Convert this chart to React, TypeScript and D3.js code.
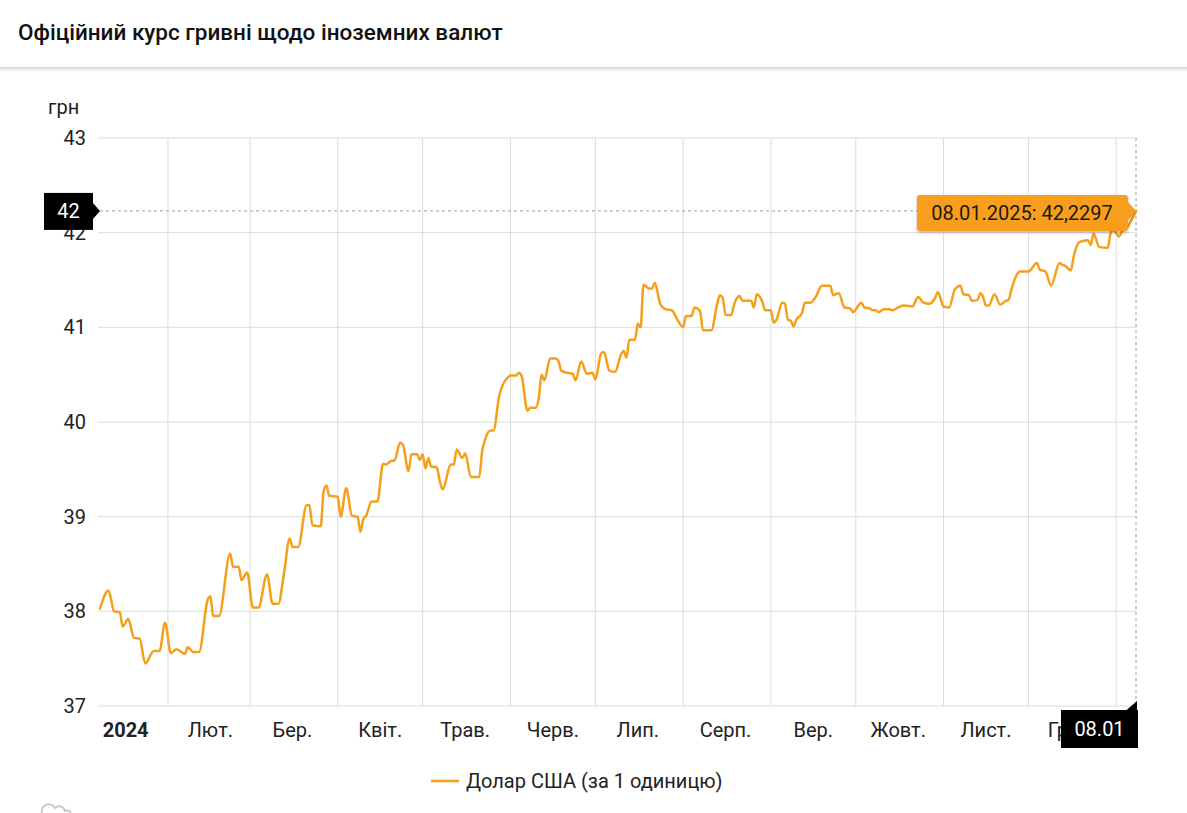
import React from 'react';
import * as d3 from 'd3';

const title = 'Офіційний курс гривні щодо іноземних валют';
const yUnit = 'грн';
const seriesName = 'Долар США (за 1 одиницю)';
const tooltipText = '08.01.2025: 42,2297';
const crossValueLabel = '42';
const crossDateLabel = '08.01';
const crossValue = 42.2297;

const yTicks = [37, 38, 39, 40, 41, 42, 43];
const monthLabels = ['2024', 'Лют.', 'Бер.', 'Квіт.', 'Трав.', 'Черв.', 'Лип.', 'Серп.', 'Вер.', 'Жовт.', 'Лист.', 'Груд.'];

const dates = [
  '2024-01-08', '2024-01-11', '2024-01-13', '2024-01-15', '2024-01-16', '2024-01-18', '2024-01-20', '2024-01-22', '2024-01-24', '2024-01-27', '2024-01-29', '2024-01-31',
  '2024-02-02', '2024-02-04', '2024-02-07', '2024-02-08', '2024-02-10', '2024-02-12', '2024-02-15', '2024-02-16', '2024-02-17', '2024-02-19', '2024-02-23', '2024-02-24', '2024-02-26', '2024-02-27', '2024-02-29',
  '2024-03-02', '2024-03-04', '2024-03-07', '2024-03-09', '2024-03-11', '2024-03-13', '2024-03-15', '2024-03-16', '2024-03-18', '2024-03-21', '2024-03-22', '2024-03-23', '2024-03-26', '2024-03-27', '2024-03-28', '2024-03-29',
  '2024-04-01', '2024-04-02', '2024-04-04', '2024-04-06', '2024-04-08', '2024-04-09', '2024-04-10', '2024-04-11', '2024-04-13', '2024-04-15', '2024-04-17', '2024-04-18', '2024-04-20', '2024-04-21', '2024-04-23', '2024-04-24', '2024-04-26', '2024-04-27', '2024-04-29', '2024-04-30',
  '2024-05-01', '2024-05-02', '2024-05-03', '2024-05-04', '2024-05-06', '2024-05-07', '2024-05-08', '2024-05-11', '2024-05-12', '2024-05-13', '2024-05-15', '2024-05-16', '2024-05-18', '2024-05-21', '2024-05-22', '2024-05-23', '2024-05-25', '2024-05-26', '2024-05-28', '2024-05-31',
  '2024-06-01', '2024-06-03', '2024-06-04', '2024-06-05', '2024-06-07', '2024-06-08', '2024-06-10', '2024-06-11', '2024-06-12', '2024-06-13', '2024-06-15', '2024-06-17', '2024-06-18', '2024-06-19', '2024-06-21', '2024-06-23', '2024-06-24', '2024-06-26', '2024-06-28', '2024-06-30',
  '2024-07-01', '2024-07-03', '2024-07-04', '2024-07-06', '2024-07-08', '2024-07-10', '2024-07-11', '2024-07-12', '2024-07-13', '2024-07-15', '2024-07-16', '2024-07-17', '2024-07-18', '2024-07-20', '2024-07-21', '2024-07-22', '2024-07-24', '2024-07-26', '2024-07-28', '2024-07-30',
  '2024-08-01', '2024-08-02', '2024-08-04', '2024-08-05', '2024-08-07', '2024-08-08', '2024-08-11', '2024-08-13', '2024-08-14', '2024-08-15', '2024-08-16', '2024-08-18', '2024-08-19', '2024-08-21', '2024-08-22', '2024-08-25', '2024-08-26', '2024-08-27', '2024-08-29', '2024-08-30',
  '2024-09-01', '2024-09-02', '2024-09-03', '2024-09-05', '2024-09-06', '2024-09-07', '2024-09-08', '2024-09-09', '2024-09-10', '2024-09-12', '2024-09-13', '2024-09-15', '2024-09-17', '2024-09-19', '2024-09-22', '2024-09-23', '2024-09-25', '2024-09-27', '2024-09-29', '2024-09-30',
  '2024-10-03', '2024-10-04', '2024-10-06', '2024-10-07', '2024-10-08', '2024-10-09', '2024-10-11', '2024-10-13', '2024-10-14', '2024-10-16', '2024-10-18', '2024-10-21', '2024-10-23', '2024-10-25', '2024-10-27', '2024-10-29', '2024-10-30',
  '2024-11-01', '2024-11-03', '2024-11-05', '2024-11-07', '2024-11-08', '2024-11-10', '2024-11-11', '2024-11-13', '2024-11-14', '2024-11-15', '2024-11-16', '2024-11-17', '2024-11-19', '2024-11-21', '2024-11-23', '2024-11-24', '2024-11-25', '2024-11-28',
  '2024-12-01', '2024-12-04', '2024-12-05', '2024-12-07', '2024-12-09', '2024-12-12', '2024-12-13', '2024-12-14', '2024-12-16', '2024-12-17', '2024-12-19', '2024-12-22', '2024-12-23', '2024-12-24', '2024-12-26', '2024-12-29', '2024-12-30', '2024-12-31',
  '2025-01-02', '2025-01-03', '2025-01-05', '2025-01-07', '2025-01-08',
];

const rates = [
  38.03, 38.22, 38.0, 37.99, 37.84, 37.92, 37.72, 37.71, 37.45, 37.58, 37.58, 37.88,
  37.56, 37.6, 37.55, 37.62, 37.57, 37.57, 38.12, 38.16, 37.95, 37.95, 38.61, 38.47, 38.47, 38.33, 38.41,
  38.04, 38.04, 38.39, 38.08, 38.08, 38.4, 38.77, 38.68, 38.68, 39.12, 39.12, 38.91, 38.9, 39.27, 39.33, 39.22,
  39.21, 39.0, 39.3, 39.01, 39.0, 38.84, 38.97, 39.01, 39.16, 39.16, 39.56, 39.55, 39.59, 39.59, 39.78, 39.76, 39.48, 39.66, 39.66, 39.6,
  39.66, 39.51, 39.62, 39.53, 39.52, 39.38, 39.29, 39.55, 39.55, 39.71, 39.62, 39.67, 39.42, 39.42, 39.69, 39.81, 39.91, 39.91, 40.27, 40.47,
  40.49, 40.49, 40.52, 40.48, 40.12, 40.15, 40.15, 40.25, 40.5, 40.44, 40.67, 40.67, 40.64, 40.54, 40.52, 40.51, 40.44, 40.64, 40.51, 40.52,
  40.45, 40.72, 40.74, 40.54, 40.53, 40.71, 40.75, 40.68, 40.87, 40.87, 41.04, 41.0, 41.45, 41.41, 41.41, 41.47, 41.24, 41.19, 41.18, 41.08,
  41.0, 41.12, 41.12, 41.21, 41.17, 40.97, 40.97, 41.24, 41.34, 41.31, 41.13, 41.13, 41.24, 41.33, 41.28, 41.28, 41.21, 41.35, 41.27, 41.18,
  41.18, 41.05, 41.08, 41.26, 41.25, 41.08, 41.07, 41.01, 41.08, 41.15, 41.26, 41.26, 41.33, 41.44, 41.44, 41.34, 41.36, 41.21, 41.2, 41.16,
  41.26, 41.21, 41.2, 41.18, 41.18, 41.16, 41.19, 41.19, 41.18, 41.21, 41.23, 41.22, 41.32, 41.26, 41.25, 41.31, 41.37,
  41.22, 41.21, 41.4, 41.44, 41.35, 41.34, 41.28, 41.29, 41.36, 41.32, 41.23, 41.23, 41.35, 41.24, 41.28, 41.29, 41.4, 41.59,
  41.59, 41.68, 41.61, 41.59, 41.44, 41.68, 41.66, 41.65, 41.6, 41.75, 41.9, 41.92, 41.87, 41.99, 41.85, 41.84, 41.99, 42.03,
  41.96, 42.01, 42.06, 42.17, 42.2297,
];

const W = 1187;
const H = 813;
const FONT = 'Roboto, "Noto Sans", sans-serif';
const LINE_COLOR = '#F5A01A';
const TIP_COLOR = '#F99E1C';

export default function App() {
  const parse = d3.timeParse('%Y-%m-%d');
  const data = dates.map((d, i) => ({ date: parse(d) as Date, v: rates[i] }));

  const x = d3.scaleTime()
    .domain([parse('2024-01-08') as Date, parse('2025-01-08') as Date])
    .range([100, 1136]);
  const y = d3.scaleLinear().domain([37, 43]).range([706, 138]);

  const line = d3.line<{ date: Date; v: number }>()
    .x((d) => x(d.date))
    .y((d) => y(d.v))
    .curve(d3.curveMonotoneX);

  const monthStarts = d3.timeMonth.range(new Date(2024, 1, 1), new Date(2025, 0, 2));
  const labelDates = d3.timeMonth.range(new Date(2024, 0, 1), new Date(2024, 11, 2)).map((m) => d3.timeDay.offset(m, 15));

  const [x0, x1] = x.range();
  const lastX = x(data[data.length - 1].date);
  const crossY = y(crossValue);

  return (
    <div style={{ position: 'absolute', left: 0, top: 0, width: W, height: H, background: '#fff' }}>
      <svg width={W} height={H} style={{ display: 'block', fontFamily: FONT }}>
        <defs>
          <linearGradient id="hdrShadow" x1="0" y1="0" x2="0" y2="1">
            <stop offset="0" stopColor="#d4d4d4" />
            <stop offset="1" stopColor="#ffffff" stopOpacity="0" />
          </linearGradient>
          <filter id="tipShadow" x="-10%" y="-30%" width="120%" height="170%">
            <feDropShadow dx="0" dy="1.5" stdDeviation="1.5" floodColor="#000" floodOpacity="0.3" />
          </filter>
        </defs>

        <rect x={0} y={0} width={W} height={H} fill="#fff" />
        <text x={18} y={39.5} fontSize={22.5} fontWeight={500} fill="#111">{title}</text>
        <rect x={0} y={67} width={W} height={7} fill="url(#hdrShadow)" />

        {/* horizontal grid */}
        {yTicks.map((t) => (
          <line key={'h' + t} x1={x0 - 2} x2={x1 + 1} y1={y(t)} y2={y(t)} stroke="#dcdcdc" strokeWidth={1} />
        ))}
        {/* vertical grid */}
        {monthStarts.map((m) => (
          <line key={'v' + m.getTime()} x1={x(m)} x2={x(m)} y1={y(43)} y2={y(37)} stroke="#dcdcdc" strokeWidth={1} />
        ))}

        {/* y labels */}
        <text x={48} y={114} fontSize={20} fill="#222">{yUnit}</text>
        {yTicks.map((t) => (
          <text key={'yl' + t} x={86} y={y(t)} dy="0.35em" fontSize={20} textAnchor="end" fill="#222">{t}</text>
        ))}

        {/* x labels */}
        {labelDates.map((d, i) => (
          <text key={'xl' + i} x={i === 0 ? x(d) + 3 : x(d)} y={737} fontSize={20} textAnchor="middle" fill="#222" fontWeight={i === 0 ? 700 : 400}>
            {monthLabels[i]}
          </text>
        ))}

        {/* crosshair */}
        <line x1={x0} x2={917} y1={crossY} y2={crossY} stroke="#9a9a9a" strokeWidth={1} strokeDasharray="3,3" />
        <line x1={lastX} x2={lastX} y1={y(43)} y2={y(37)} stroke="#9a9a9a" strokeWidth={1} strokeDasharray="3,3" />

        {/* series */}
        <path d={line(data) || ''} fill="none" stroke={LINE_COLOR} strokeWidth={2.5} strokeLinejoin="round" strokeLinecap="round" />

        {/* left value label */}
        <rect x={44} y={crossY - 18} width={49} height={37} fill="#000" />
        <path d={`M93,${crossY - 8} L100,${crossY} L93,${crossY + 8} Z`} fill="#000" />
        <text x={68.5} y={crossY} dy="0.35em" fontSize={20} textAnchor="middle" fill="#fff">{crossValueLabel}</text>

        {/* bottom date label */}
        <rect x={1061} y={710} width={77} height={38} fill="#000" />
        <path d={`M1126,710.5 L${lastX + 1},701 L${lastX + 1},710.5 Z`} fill="#000" />
        <text x={1099.5} y={729} dy="0.35em" fontSize={20} textAnchor="middle" fill="#fff">{crossDateLabel}</text>

        {/* tooltip */}
        <g filter="url(#tipShadow)">
          <path
            d={`M920,195 H1125 Q1128,195 1128,198 V${crossY - 9} L${lastX},${crossY} L1128,${crossY + 9} V228 Q1128,231 1125,231 H920 Q917,231 917,228 V198 Q917,195 920,195 Z`}
            fill={TIP_COLOR}
          />
        </g>
        <text x={1022} y={213} dy="0.35em" fontSize={20} textAnchor="middle" fill="#1a1a1a">{tooltipText}</text>

        {/* legend */}
        <line x1={431} x2={459} y1={781} y2={781} stroke={LINE_COLOR} strokeWidth={2.5} />
        <text x={466} y={781} dy="0.35em" fontSize={20} fill="#222">{seriesName}</text>

        {/* partially visible icon */}
        <path d="M42,813 a7,7 0 0 1 13,-5 a6,6 0 0 1 10,3 a4,4 0 0 1 6,3" fill="none" stroke="#c8c8c8" strokeWidth={2} />
      </svg>
    </div>
  );
}
